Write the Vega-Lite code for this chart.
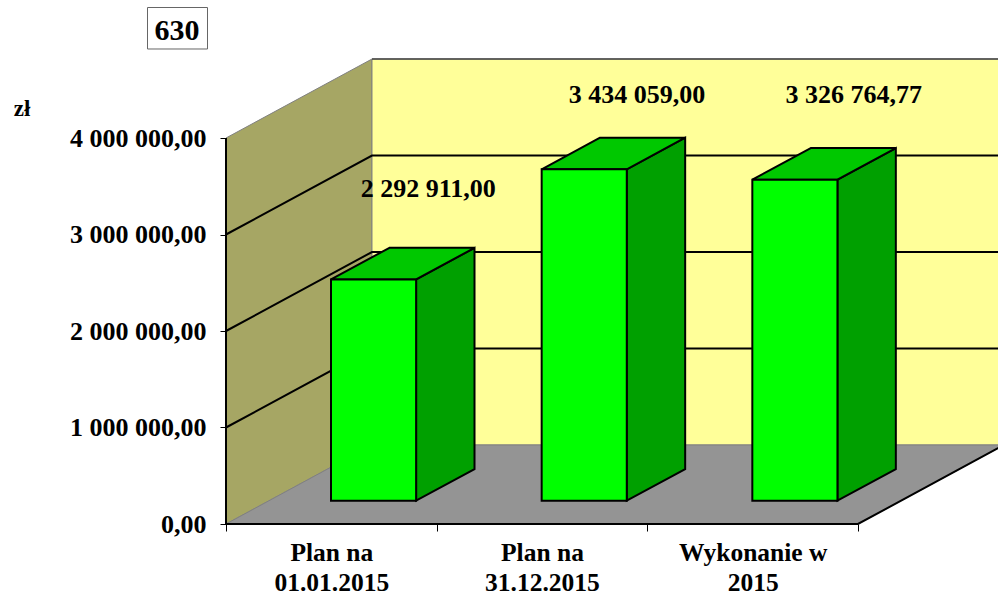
{
"$schema":"https://vega.github.io/schema/vega-lite/v6.json",
"width":998,"height":593,"padding":0,"autosize":{"type":"none"},"background":"white",
"config":{"view":{"stroke":null},"font":"Liberation Serif"},
"datasets":{
"bars":[
{"category":"Plan na 01.01.2015","slot":0.5,"value":2292911,"label":"2 292 911,00"},
{"category":"Plan na 31.12.2015","slot":1.5,"value":3434059,"label":"3 434 059,00"},
{"category":"Wykonanie w 2015","slot":2.5,"value":3326764.77,"label":"3 326 764,77"}
],
"depth":[{"d":0},{"d":1}],
"grid":[
{"tick":1000000,"s":0,"d":0},{"tick":1000000,"s":0,"d":1},{"tick":1000000,"s":3,"d":1},
{"tick":2000000,"s":0,"d":0},{"tick":2000000,"s":0,"d":1},{"tick":2000000,"s":3,"d":1},
{"tick":3000000,"s":0,"d":0},{"tick":3000000,"s":0,"d":1},{"tick":3000000,"s":3,"d":1}
],
"edge":[{"tick":0,"s":3,"d":1,"o":0},{"tick":0,"s":3,"d":0,"o":1},{"tick":0,"s":0,"d":0,"o":2},{"tick":4000000,"s":0,"d":0,"o":3}]
},
"layer":[
{"data":{"name":"depth"},
 "transform":[{"calculate":"datum.d*0.693","as":"px"},{"calculate":"4000000+datum.d*818653","as":"top"},{"calculate":"datum.d*818653","as":"bot"}],
 "mark":{"type":"area","orient":"vertical","fill":"#A6A664","stroke":"#808080","strokeWidth":1},
 "encoding":{
  "x":{"field":"px","type":"quantitative","scale":{"domain":[-1.0728,3.6646],"nice":false,"zero":false},
    "axis":{"orient":"bottom","offset":-69,"domain":false,"grid":false,"title":null,
      "values":[0,0.5,1,1.5,2,2.5,3],"tickSize":7,"tickColor":"#000","tickWidth":1,
      "tickOpacity":{"condition":{"test":"datum.value%1==0","value":1},"value":0},
      "labelExpr":"datum.value==0.5?['\u00a0Plan na','01.01.2015']:datum.value==1.5?['\u00a0Plan na','31.12.2015']:datum.value==2.5?['Wykonanie w','2015']:''",
      "labelFont":"Liberation Serif","labelFontWeight":"bold","labelFontSize":25.5,"labelColor":"#000","labelPadding":9,"labelLineHeight":30,"labelOverlap":false,"labelBound":false,"labelFlush":false,"labelAngle":0,"labelBaseline":"top"}},
  "y":{"field":"top","type":"quantitative","scale":{"domain":[-715026,5430052],"nice":false,"zero":false},
    "axis":{"orient":"left","offset":-226,"domain":false,"grid":false,"title":null,
      "values":[0,1000000,2000000,3000000,4000000],"tickSize":6,"tickColor":"#000","tickWidth":1,
      "labelExpr":"datum.value==0?'0,00':format(datum.value/1000000,'d')+' 000 000,00'",
      "labelFont":"Liberation Serif","labelFontWeight":"bold","labelFontSize":26,"labelColor":"#000","labelPadding":14,"labelOverlap":false,"labelBound":false,"labelFlush":false}},
  "y2":{"field":"bot"}}},
{"data":{"values":[{"a":0.693,"b":3.693,"lo":818653,"hi":4818653}]},
 "mark":{"type":"rect","fill":"#FFFF99","stroke":"#808080","strokeWidth":1},
 "encoding":{"x":{"field":"a","type":"quantitative"},"x2":{"field":"b"},"y":{"field":"lo","type":"quantitative"},"y2":{"field":"hi"}}},
{"data":{"name":"depth"},
 "transform":[{"calculate":"datum.d*0.693","as":"xa"},{"calculate":"3+datum.d*0.693","as":"xb"},{"calculate":"datum.d*818653","as":"yy"}],
 "mark":{"type":"area","orient":"horizontal","fill":"#949494","stroke":"#808080","strokeWidth":1},
 "encoding":{"x":{"field":"xa","type":"quantitative"},"x2":{"field":"xb"},"y":{"field":"yy","type":"quantitative"}}},
{"data":{"name":"grid"},
 "transform":[{"calculate":"datum.s+datum.d*0.693","as":"px"},{"calculate":"datum.tick+datum.d*818653","as":"py"}],
 "mark":{"type":"line","stroke":"#000","strokeWidth":2},
 "encoding":{"x":{"field":"px","type":"quantitative"},"y":{"field":"py","type":"quantitative"},"detail":{"field":"tick"}}},
{"data":{"values":[{"s":0.693,"v":4818653},{"s":3.693,"v":4818653}]},
 "mark":{"type":"line","stroke":"#444","strokeWidth":1.5},
 "encoding":{"x":{"field":"s","type":"quantitative"},"y":{"field":"v","type":"quantitative"}}},
{"data":{"name":"edge"},
 "transform":[{"calculate":"datum.s+datum.d*0.693","as":"px"},{"calculate":"datum.tick+datum.d*818653","as":"py"}],
 "mark":{"type":"line","stroke":"#000","strokeWidth":2},
 "encoding":{"x":{"field":"px","type":"quantitative"},"y":{"field":"py","type":"quantitative"},"order":{"field":"o"}}},
{"data":{"name":"bars"},
 "transform":[{"calculate":"[0.295,0.695]","as":"ds"},{"flatten":["ds"]},{"calculate":"datum.slot+0.198+datum.ds*0.693","as":"px"},{"calculate":"datum.value+datum.ds*818653","as":"top"},{"calculate":"datum.ds*818653","as":"bot"}],
 "mark":{"type":"area","orient":"vertical","fill":"#00A000","stroke":"#000","strokeWidth":2},
 "encoding":{"x":{"field":"px","type":"quantitative"},"y":{"field":"top","type":"quantitative"},"y2":{"field":"bot"},"detail":{"field":"category"}}},
{"data":{"name":"bars"},
 "transform":[{"calculate":"[0.295,0.695]","as":"ds"},{"flatten":["ds"]},{"calculate":"datum.slot-0.206+datum.ds*0.693","as":"xa"},{"calculate":"datum.slot+0.198+datum.ds*0.693","as":"xb"},{"calculate":"datum.value+datum.ds*818653","as":"yy"}],
 "mark":{"type":"area","orient":"horizontal","fill":"#00C800","stroke":"#000","strokeWidth":2},
 "encoding":{"x":{"field":"xa","type":"quantitative"},"x2":{"field":"xb"},"y":{"field":"yy","type":"quantitative"},"detail":{"field":"category"}}},
{"data":{"name":"bars"},
 "transform":[{"calculate":"datum.slot-0.206+0.295*0.693","as":"xa"},{"calculate":"datum.slot+0.198+0.295*0.693","as":"xb"},{"calculate":"datum.value+0.295*818653","as":"top"},{"calculate":"0.295*818653","as":"bot"}],
 "mark":{"type":"rect","fill":"#00FF00","stroke":"#000","strokeWidth":2},
 "encoding":{"x":{"field":"xa","type":"quantitative"},"x2":{"field":"xb"},"y":{"field":"top","type":"quantitative"},"y2":{"field":"bot"}}},
{"data":{"name":"bars"},
 "transform":[{"filter":"datum.slot==0.5"},{"calculate":"datum.slot+0.5*0.693","as":"px"},{"calculate":"datum.value+0.5*818653","as":"py"}],
 "mark":{"type":"text","font":"Liberation Serif","fontWeight":"bold","fontSize":26,"color":"#000","dx":24,"dy":-74,"baseline":"middle"},
 "encoding":{"x":{"field":"px","type":"quantitative"},"y":{"field":"py","type":"quantitative"},"text":{"field":"label"}}},
{"data":{"name":"bars"},
 "transform":[{"filter":"datum.slot==1.5"},{"calculate":"datum.slot+0.5*0.693","as":"px"},{"calculate":"datum.value+0.5*818653","as":"py"}],
 "mark":{"type":"text","font":"Liberation Serif","fontWeight":"bold","fontSize":26,"color":"#000","dx":22,"dy":-58,"baseline":"middle"},
 "encoding":{"x":{"field":"px","type":"quantitative"},"y":{"field":"py","type":"quantitative"},"text":{"field":"label"}}},
{"data":{"name":"bars"},
 "transform":[{"filter":"datum.slot==2.5"},{"calculate":"datum.slot+0.5*0.693","as":"px"},{"calculate":"datum.value+0.5*818653","as":"py"}],
 "mark":{"type":"text","font":"Liberation Serif","fontWeight":"bold","fontSize":26,"color":"#000","dx":28,"dy":-68,"baseline":"middle"},
 "encoding":{"x":{"field":"px","type":"quantitative"},"y":{"field":"py","type":"quantitative"},"text":{"field":"label"}}},
{"data":{"values":[{"a":-0.3726,"b":-0.0878,"lo":4922300,"hi":5352300}]},
 "mark":{"type":"rect","fill":"#fff","stroke":"#666","strokeWidth":1},
 "encoding":{"x":{"field":"a","type":"quantitative"},"x2":{"field":"b"},"y":{"field":"lo","type":"quantitative"},"y2":{"field":"hi"}}},
{"data":{"values":[{"s":-0.2326,"v":5108800,"t":"630","z":30},{"s":-0.968,"v":4300500,"t":"zł","z":23}]},
 "mark":{"type":"text","font":"Liberation Serif","fontWeight":"bold","color":"#000","baseline":"middle"},
 "encoding":{"x":{"field":"s","type":"quantitative"},"y":{"field":"v","type":"quantitative"},"text":{"field":"t"},"size":{"field":"z","type":"quantitative","scale":null,"legend":null}}}
]
}
